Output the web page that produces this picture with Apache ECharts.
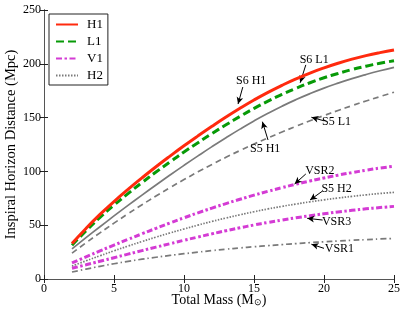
<!DOCTYPE html>
<html><head><meta charset="utf-8">
<script src="https://cdn.jsdelivr.net/npm/echarts@6/dist/echarts.min.js"></script>
<style>html,body{margin:0;padding:0;background:#fff}#c{width:402px;height:310px}</style>
</head><body><div id="c"></div>
<script>
// ---- data ----
const mass = [2,3,4,5,6,7,8,9,10,11,12,13,14,15,16,17,18,19,20,21,22,23,24,25];
const s6H1 = [33,47,60,72,83.3,94,104.3,114.2,123.8,133,141.9,150.5,158.7,166.4,173.5,180,186,191.4,196.2,200.5,204.3,207.6,210.4,212.8];
const s6L1 = [31.4,44.8,57.2,68.6,79.4,89.6,99.4,108.8,118,126.7,135.2,143.3,151.1,158.5,165.3,171.5,177.2,182.4,187,191,194.7,197.8,200.5,202.8];
const s5H1 = [28,38.4,48.6,58.6,68.4,78,87.4,96.6,105.6,114.4,123,131.3,139.3,146.9,154,160.6,166.7,172.3,177.4,182,186.2,190,193.5,196.7];
const s5L1 = [24,33.6,42.9,51.9,60.6,69,77.1,84.9,92.4,99.6,106.5,113.1,119.4,125.4,131.1,136.6,141.9,147,151.9,156.6,161.1,165.4,169.5,173.6];
const vsr2 = [15,20.6,26.1,31.5,36.8,42,47.1,52.1,56.9,61.5,65.9,70.1,74.1,77.9,81.5,84.9,88.1,91.1,93.9,96.5,98.9,101.1,103.1,104.8];
const s5H2 = [12,16.9,21.6,26.2,30.6,34.8,38.9,42.8,46.5,50.1,53.5,56.7,59.7,62.5,65.1,67.5,69.7,71.7,73.55,75.25,76.8,78.2,79.5,80.5];
const vsr3 = [10,13.2,16.5,19.8,23.1,26.4,29.6,32.8,36,39,42,44.9,47.6,50.2,52.6,54.8,56.9,58.8,60.6,62.3,63.8,65.2,66.4,67.5];
const vsr1 = [6.5,9.2,11.8,14.2,16.4,18.4,20.2,21.9,23.5,25,26.4,27.7,28.9,30,31,32,32.9,33.8,34.6,35.3,36,36.6,37.2,37.7];
const xTicks = [0,5,10,15,20,25];
const yTicks = [0,50,100,150,200,250];
// annotations: label, text position, arrow start, arrow end, curveness
const annLabels = ['S6 H1','S6 L1','S5 L1','S5 H1','VSR2','S5 H2','VSR3','VSR1'];
const annText = [[14.8,184],[19.3,203.5],[20.9,146],[15.8,120.8],[19.7,100.4],[20.9,83.6],[20.9,53],[21.1,28.3]];
const annFrom = [[14.2,178.4],[18.7,199],[20,147],[16.0,129.2],[18.7,97.6],[19.9,81.8],[19.9,54.8],[20,28.5]];
const annTo = [[13.86,162.6],[18.3,182.4],[19.1,150.3],[15.6,146.2],[17.9,88.3],[19.0,73.4],[18.8,56.4],[19.1,32.3]];
const annCurve = [0,-0.35,0,-0.35,0,0,0,0];

const pts = arr => mass.map((m,i)=>[m,arr[i]]);
const FONT = 'Liberation Serif';
function mk(name, arr, color, width, type, z){
  return {name, type:'line', data:pts(arr), smooth:true, symbol:'none', showSymbol:false,
    lineStyle:{color, width, type}, itemStyle:{color}, z:z||2, silent:true, animation:false};
}
const series = [
  mk('H1', s6H1, '#ff2a0e', 3, 'solid', 5),
  mk('L1', s6L1, '#079a07', 3, [8,4], 4),
  mk('V1', vsr2, '#d43bd4', 3, [6,2.5,2.5,2.5], 3),
  mk('H2', s5H2, '#7a7a7a', 1.7, [1.5,1.5], 2),
  mk('S5 H1', s5H1, '#7a7a7a', 1.7, 'solid', 2),
  mk('S5 L1', s5L1, '#7a7a7a', 1.7, [6,4], 2),
  mk('VSR3', vsr3, '#d43bd4', 3, [6,2.5,2.5,2.5], 3),
  mk('VSR1', vsr1, '#7a7a7a', 1.7, [6,3,1.5,3], 2),
];
series.push({
  name:'ann', type:'line', data:[], silent:true, animation:false, z:6,
  markLine:{silent:true, animation:false, symbol:['none','arrow'], symbolSize:[5,7],
    lineStyle:{color:'#000', width:1, type:'solid'}, label:{show:false},
    data: annFrom.map((f,i)=>[{coord:f, lineStyle:{curveness:annCurve[i]}},{coord:annTo[i]}])},
  markPoint:{silent:true, animation:false, symbol:'rect', symbolSize:1, itemStyle:{color:'rgba(0,0,0,0)'},
    label:{show:true, position:'inside', color:'#000', fontFamily:FONT, fontSize:12,
      formatter:p=>p.name},
    data: annText.map((t,i)=>({name:annLabels[i], coord:t}))}
});
const axisCommon = {
  axisLine:{show:true, lineStyle:{color:'#222', width:1}},
  axisTick:{show:true, inside:true, length:4, lineStyle:{color:'#222'}},
  splitLine:{show:false},
};
const chart = echarts.init(document.getElementById('c'), null, {renderer:'canvas'});
chart.setOption({
  animation:false,
  grid:{left:44, right:8, top:10, bottom:31, containLabel:false, outerBoundsMode:'none'},
  legend:{data:['H1','L1','V1','H2'], orient:'vertical', left:49, top:14,
    borderColor:'#222', borderWidth:1, padding:[4,5,3,6], itemGap:4, itemWidth:22, itemHeight:12,
    itemStyle:{opacity:0},
    textStyle:{fontFamily:FONT, fontSize:13, color:'#000', padding:[0,0,0,4]}},
  xAxis:[
    Object.assign({type:'value', min:0, max:25, interval:5, position:'bottom',
      name:'Total Mass (M{s|⊙})', nameLocation:'middle', nameGap:13, nameMoveOverlap:false,
      nameTextStyle:{fontFamily:FONT, fontSize:14, color:'#000', lineHeight:16,
        rich:{s:{fontSize:9, lineHeight:16, fontFamily:FONT, padding:[5,0,0,0]}}},
      axisLabel:{fontFamily:FONT, fontSize:12, color:'#000', margin:4,
        formatter:v=>xTicks.includes(v)?String(v):''}}, axisCommon),
    Object.assign({type:'value', min:0, max:25, interval:5, position:'top', axisLabel:{show:false}}, axisCommon,
      {axisLine:{show:true, lineStyle:{color:'#555'}}})
  ],
  yAxis:[
    Object.assign({type:'value', min:0, max:250, interval:50, position:'left',
      name:'Inspiral Horizon Distance (Mpc)', nameLocation:'middle', nameGap:25, nameMoveOverlap:false,
      nameTextStyle:{fontFamily:FONT, fontSize:14.5, color:'#000'},
      axisLabel:{fontFamily:FONT, fontSize:12, color:'#000', margin:3,
        formatter:v=>yTicks.includes(v)?String(v):''}}, axisCommon),
    Object.assign({type:'value', min:0, max:250, interval:50, position:'right', axisLabel:{show:false}}, axisCommon,
      {axisLine:{show:true, lineStyle:{color:'#555'}}})
  ],
  series
});
</script></body></html>
